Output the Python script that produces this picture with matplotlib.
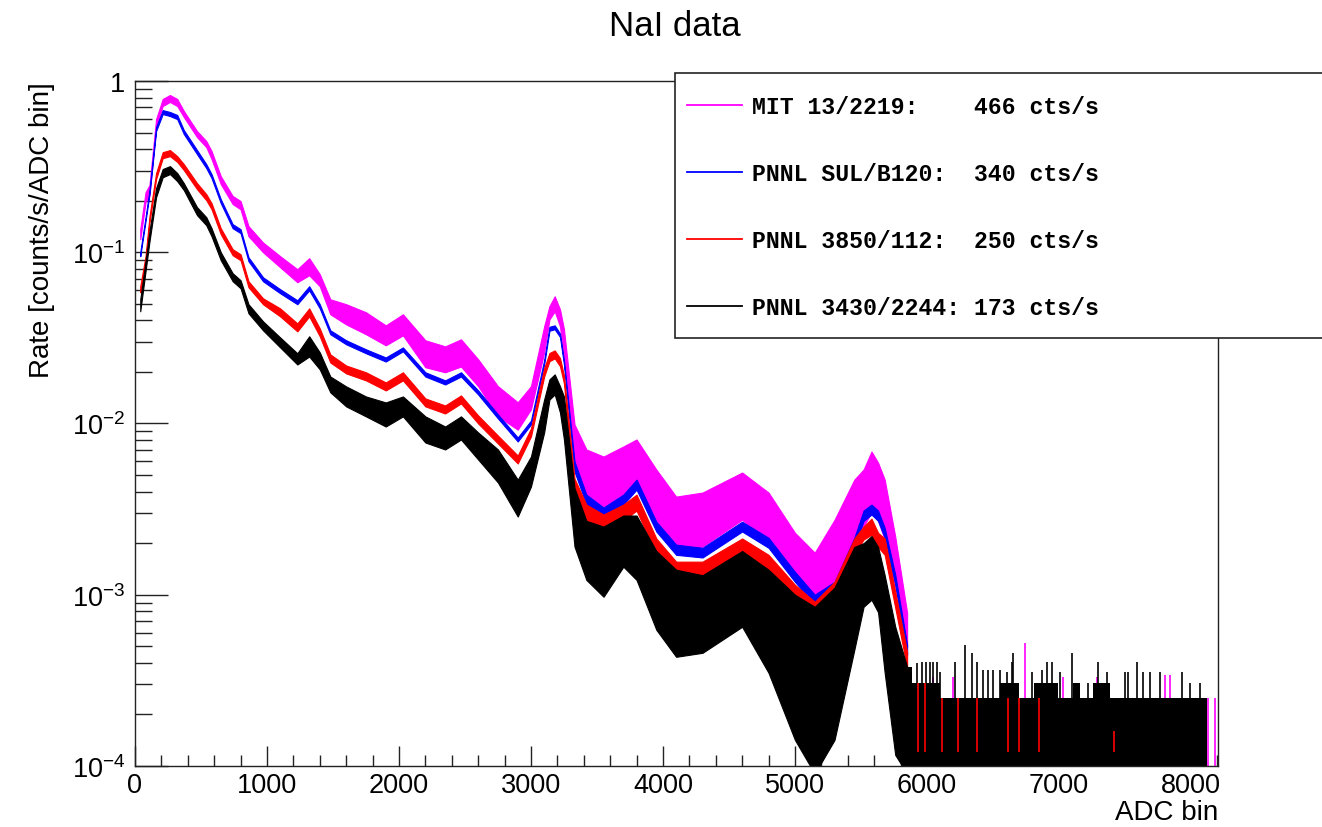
import numpy as np
import matplotlib.pyplot as plt
from matplotlib.patches import Rectangle
from matplotlib.lines import Line2D
from matplotlib.ticker import LogLocator, FuncFormatter, MultipleLocator, NullFormatter
from matplotlib.font_manager import FontProperties

plt.rcParams['font.family'] = 'Liberation Sans'
plt.rcParams['mathtext.fontset'] = 'custom'
plt.rcParams['mathtext.rm'] = 'Liberation Sans'
plt.rcParams['mathtext.it'] = 'Liberation Sans:italic'
plt.rcParams['mathtext.bf'] = 'Liberation Sans:bold'

adc = [40, 80, 110, 160, 210, 265, 320, 370, 470, 540, 580, 650, 740, 800, 860, 970,
       1100, 1230, 1320, 1400, 1480, 1600, 1750, 1900, 2030, 2200, 2350, 2470, 2600,
       2750, 2900, 3000, 3100, 3140, 3180, 3220, 3250, 3330, 3420, 3550, 3700, 3800,
       3950, 4100, 4300, 4600, 4800, 5000, 5150, 5300, 5450, 5520, 5580, 5630, 5680,
       5760, 5850]

# MIT 13/2219 (upper / lower edge of the noisy histogram)
mit_hi = [0.136, 0.224, 0.247, 0.599, 0.785, 0.828, 0.785, 0.668, 0.510, 0.446, 0.390,
          0.278, 0.213, 0.199, 0.142, 0.114, 0.0948, 0.0796, 0.0923, 0.0744, 0.0531,
          0.0497, 0.0446, 0.0374, 0.0434, 0.0306, 0.0282, 0.0310, 0.0237, 0.0165, 0.0133,
          0.0165, 0.0369, 0.0484, 0.0553, 0.0464, 0.0355, 0.00987, 0.00705, 0.00641,
          0.00734, 0.00806, 0.00538, 0.00374, 0.00395, 0.00517, 0.00395, 0.00230, 0.00176,
          0.00274, 0.0047, 0.00538, 0.00686, 0.0059, 0.0047, 0.00218, 0.000785]
mit_lo = [0.119, 0.196, 0.215, 0.538, 0.714, 0.754, 0.714, 0.616, 0.470, 0.411, 0.350,
          0.250, 0.191, 0.178, 0.124, 0.100, 0.0817, 0.0668, 0.0734, 0.0633, 0.0434,
          0.0379, 0.0332, 0.0286, 0.0327, 0.0213, 0.0199, 0.0215, 0.0165, 0.0110, 0.0092,
          0.0121, 0.0260, 0.0405, 0.0452, 0.0369, 0.0237, 0.0056, 0.00384, 0.00327,
          0.00384, 0.00428, 0.00274, 0.00183, 0.00191, 0.00274, 0.00201, 0.00122, 0.000935,
          0.00122, 0.00191, 0.00251, 0.00302, 0.0027, 0.0021, 0.00111, 0.000497]

# PNNL SUL/B120
sul_hi = [0.100, 0.160, 0.2305, 0.538, 0.676, 0.659, 0.633, 0.517, 0.395, 0.327, 0.286,
          0.204, 0.1458, 0.1363, 0.0935, 0.0714, 0.0608, 0.0524, 0.0633, 0.0497, 0.0350,
          0.0306, 0.0271, 0.0243, 0.0278, 0.0199, 0.01785, 0.0199, 0.0156, 0.01129, 0.00828,
          0.0104, 0.0234, 0.0367, 0.0374, 0.0335, 0.0234, 0.0060, 0.00384, 0.00323, 0.00384,
          0.0047, 0.00267, 0.00196, 0.00188, 0.00267, 0.00215, 0.00136, 0.0010, 0.00119,
          0.00215, 0.0031, 0.00336, 0.0031, 0.00246, 0.00131, 0.00051]
sul_lo = [0.0948, 0.152, 0.2184, 0.510, 0.641, 0.624, 0.599, 0.490, 0.374, 0.310, 0.271,
          0.1934, 0.1381, 0.1292, 0.0886, 0.0677, 0.0576, 0.0497, 0.0599, 0.0470, 0.0332,
          0.0290, 0.0257, 0.0230, 0.0264, 0.0188, 0.0169, 0.0188, 0.01477, 0.0107, 0.00785,
          0.00987, 0.0221, 0.0348, 0.0355, 0.032, 0.0221, 0.00524, 0.00336, 0.00282, 0.00336,
          0.00411, 0.00234, 0.00171, 0.00165, 0.00234, 0.00188, 0.00119, 0.000874, 0.00104,
          0.00188, 0.0027, 0.00294, 0.0027, 0.00215, 0.001144, 0.000446]

# PNNL 3850/112
p3850_hi = [0.0633, 0.0948, 0.1624, 0.2897, 0.384, 0.395, 0.364, 0.327, 0.2532, 0.2184,
            0.1934, 0.1381, 0.1041, 0.0973, 0.0677, 0.0538, 0.0470, 0.0384, 0.0470, 0.0359,
            0.0253, 0.0218, 0.0199, 0.01737, 0.0199, 0.0140, 0.01274, 0.01458, 0.01114,
            0.0085, 0.0065, 0.00935, 0.0210, 0.0258, 0.0267, 0.0241, 0.0191, 0.00477,
            0.00336, 0.00294, 0.00336, 0.00384, 0.00213, 0.00156, 0.00156, 0.00213, 0.00171,
            0.001144, 0.00091, 0.00119, 0.00213, 0.0025, 0.00278, 0.0023, 0.00213, 0.00104,
            0.000464]
p3850_lo = [0.0584, 0.0874, 0.1498, 0.2673, 0.354, 0.364, 0.337, 0.3017, 0.2336, 0.2014,
            0.1784, 0.1274, 0.0960, 0.0898, 0.0624, 0.0497, 0.0422, 0.0345, 0.0422, 0.0323,
            0.0227, 0.0196, 0.01785, 0.0156, 0.01785, 0.01258, 0.01144, 0.0131, 0.0100,
            0.00764, 0.00584, 0.0084, 0.0188, 0.0231, 0.0240, 0.0216, 0.01714, 0.00384,
            0.00271, 0.00237, 0.00271, 0.0031, 0.00171, 0.00126, 0.00126, 0.00171, 0.00138,
            0.000922, 0.000734, 0.00096, 0.00171, 0.0021, 0.00224, 0.0019, 0.00171, 0.00084,
            0.000374]

# PNNL 3430/2244
p3430_hi = [0.0531, 0.0886, 0.1327, 0.2367, 0.306, 0.3184, 0.29, 0.2532, 0.1833, 0.1603,
            0.1381, 0.100, 0.0754, 0.0686, 0.0497, 0.0395, 0.0318, 0.0257, 0.0323, 0.0260,
            0.0188, 0.01646, 0.01438, 0.01327, 0.01438, 0.0110, 0.0096, 0.0110, 0.00886,
            0.00705, 0.0047, 0.00641, 0.0138, 0.0181, 0.01935, 0.0165, 0.01438, 0.0042,
            0.0027, 0.0025, 0.0029, 0.0029, 0.0018, 0.0014, 0.0013, 0.0018, 0.0014, 0.0010,
            0.00085, 0.0011, 0.0019, 0.0020, 0.0022, 0.0019, 0.0013, 0.00065, 0.000379]
p3430_lo = [0.0452, 0.0774, 0.1160, 0.2097, 0.274, 0.286, 0.26, 0.2305, 0.1646, 0.1438,
            0.124, 0.0898, 0.0677, 0.0616, 0.0440, 0.0350, 0.0278, 0.0221, 0.0246, 0.0207,
            0.0152, 0.01258, 0.0110, 0.0096, 0.0110, 0.00774, 0.00705, 0.00806, 0.00616,
            0.00452, 0.00286, 0.00428, 0.00886, 0.0138, 0.01477, 0.0116, 0.00806, 0.00191,
            0.00122, 0.000973, 0.001458, 0.00122, 0.000624, 0.000434, 0.000458, 0.00065,
            0.00035, 0.000142, 0.00009, 0.000142, 0.000477, 0.00085, 0.000935, 0.00079,
            0.00035, 0.000116, 0.00009]

# flat single-count tail of PNNL 3430/2244 above ~5850
tail_adc = [5850, 5890, 6100, 6550, 6700, 6810, 6990, 7110, 7160, 7260, 7390, 8120]
tail_top = [3.79e-4, 3.05e-4, 2.5e-4, 3.05e-4, 2.5e-4, 3.05e-4, 2.5e-4, 3.05e-4, 2.5e-4,
            3.05e-4, 2.5e-4, 2.5e-4]
spike_adc = [5922, 5960, 5992, 6023, 6048, 6078, 6098, 6212, 6288, 6338, 6376, 6427, 6465,
             6503, 6553, 6604, 6641, 6654, 6793, 6869, 6907, 6944, 7008, 7096, 7146, 7222,
             7298, 7361, 7500, 7525, 7588, 7639, 7689, 7765, 7929, 7992, 8068]
spike_top = [3.98e-4, 4.07e-4, 4.07e-4, 4.07e-4, 4.07e-4, 4.07e-4, 3.56e-4, 4.07e-4, 5.1e-4,
             4.56e-4, 4.07e-4, 3.64e-4, 3.64e-4, 3.64e-4, 3.64e-4, 3.56e-4, 4.07e-4, 4.56e-4,
             3.56e-4, 3.64e-4, 4.07e-4, 4.07e-4, 3.56e-4, 4.56e-4, 3.05e-4, 3.05e-4, 4.07e-4,
             3.56e-4, 3.56e-4, 3.56e-4, 4.07e-4, 3.56e-4, 3.56e-4, 3.56e-4, 3.56e-4, 3.05e-4,
             3.05e-4]
mit_spike_adc = [6043, 6199, 6742, 7033, 7285, 7803, 7841, 8131, 8182]
mit_spike_top = [3.33e-4, 3.33e-4, 5.2e-4, 3.33e-4, 3.33e-4, 3.4e-4, 3.4e-4, 2.5e-4, 2.5e-4]
red_spike_adc = [5935, 5985, 6111, 6238, 6376, 6616, 6697, 6848, 7416]
red_spike_top = [3.05e-4, 3.05e-4, 2.5e-4, 2.5e-4, 2.5e-4, 2.5e-4, 2.5e-4, 2.5e-4, 1.6e-4]

labels = ['MIT 13/2219:    466 cts/s',
          'PNNL SUL/B120:  340 cts/s',
          'PNNL 3850/112:  250 cts/s',
          'PNNL 3430/2244: 173 cts/s']
colors = ['#ff00ff', '#0000ff', '#ff0000', '#000000']

fig = plt.figure(figsize=(13.22, 8.28), dpi=100)
ax = fig.add_axes([0.1021, 0.0737, 0.8192, 0.8273])
ax.set_yscale('log')

bands = [(mit_lo, mit_hi), (sul_lo, sul_hi), (p3850_lo, p3850_hi), (p3430_lo, p3430_hi)]
ax.vlines(mit_spike_adc, 9e-5, mit_spike_top, color=colors[0], lw=1.2, zorder=1)
for (lo, hi), c in zip(bands, colors):
    ax.fill_between(adc, lo, hi, color=c, lw=0.8, zorder=2)
ax.fill_between(tail_adc, 9e-5, tail_top, step='post', color='k', lw=0, zorder=2)
ax.vlines(spike_adc, 2.4e-4, spike_top, color='k', lw=1.2, zorder=2)
ax.vlines(red_spike_adc, 1.2e-4, red_spike_top, color=colors[2], lw=1.2, zorder=3)

ax.set_xlim(0, 8205)
ax.set_ylim(1e-4, 1)

ax.xaxis.set_major_locator(MultipleLocator(1000))
ax.xaxis.set_minor_locator(MultipleLocator(200))
ax.yaxis.set_major_locator(LogLocator(base=10, numticks=10))
ax.yaxis.set_minor_locator(LogLocator(base=10, subs=np.arange(2, 10), numticks=30))
ax.yaxis.set_minor_formatter(NullFormatter())
ax.yaxis.set_major_formatter(FuncFormatter(
    lambda v, p: '1' if abs(v - 1) < 1e-9 else r'$10^{%d}$' % round(np.log10(v))))

ax.tick_params(which='both', direction='in', top=False, right=False, width=1,
               labelsize=19.5, color='#222222')
ax.tick_params(axis='y', which='major', length=24, pad=7)
ax.tick_params(axis='y', which='minor', length=12)
ax.tick_params(axis='x', which='major', length=14.5, pad=4)
ax.tick_params(axis='x', which='minor', length=8)
for s in ax.spines.values():
    s.set_linewidth(1.0)
    s.set_color('#222222')

ax.set_ylabel('Rate [counts/s/ADC bin]', fontsize=20, loc='top')
ax.yaxis.set_label_coords(-0.074, 1.0)
ax.set_xlabel('ADC bin', fontsize=20, loc='right')
ax.xaxis.set_label_coords(1.0, -0.048)

fig.text(0.5106, 1 - 26 / 828, 'NaI data', ha='center', va='center', fontsize=25)

# legend box runs off the right edge of the canvas, as in the original
box = Rectangle((675 / 1322, 1 - 339 / 828), 0.6, (339 - 74) / 828,
                transform=fig.transFigure, facecolor='white', edgecolor='#222222',
                lw=1.2, zorder=5)
fig.add_artist(box)
handles = [Line2D([], [], color=c, lw=1.3) for c in colors]
leg = fig.legend(handles, labels, loc='upper left', bbox_to_anchor=(687 / 1322, 1 - 96 / 828),
                 bbox_transform=fig.transFigure, frameon=False,
                 prop=FontProperties(family='Liberation Mono', weight='bold', size=16.7),
                 handlelength=2.35, handletextpad=0.45, labelspacing=1.9,
                 borderpad=0, borderaxespad=0)
leg.set_zorder(6)

fig.savefig('out.png', dpi=100)
